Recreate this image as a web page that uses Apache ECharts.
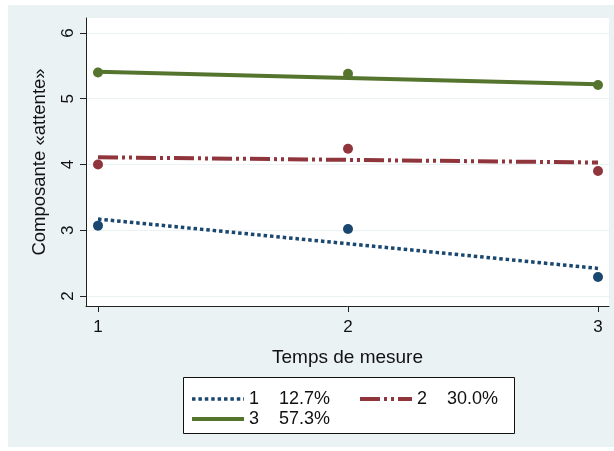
<!DOCTYPE html>
<html>
<head>
<meta charset="utf-8">
<script src="https://cdn.jsdelivr.net/npm/echarts@6/dist/echarts.min.js"></script>
<style>
  html, body { margin: 0; padding: 0; background: #ffffff; }
  #wrap { position: relative; width: 614px; height: 451px; }
  #bg { position: absolute; left: 8px; top: 5px; width: 606px; height: 442px; background: #eaf2f3; }
  #chart { position: absolute; left: 0; top: 0; width: 614px; height: 451px; }
</style>
</head>
<body>
<div id="wrap"><div id="bg"></div><div id="chart"></div></div>
<script>
// ---- data ----
const timePoints = [1, 2, 3];
const clusterNames = ['1', '2', '3'];
const clusterShares = ['12.7%', '30.0%', '57.3%'];
const observed1 = [3.07, 3.02, 2.29];
const observed2 = [4.00, 4.24, 3.90];
const observed3 = [5.40, 5.38, 5.21];
const fittedX = [1, 3];
const fitted1 = [3.17, 2.42];
const fitted2 = [4.11, 4.03];
const fitted3 = [5.41, 5.22];
const xTicks = [1, 2, 3];
const yTicks = [2, 3, 4, 5, 6];
const xTitle = 'Temps de mesure';
const yTitle = 'Composante «attente»';

const colors = ['#1a476f', '#90353b', '#55752f'];
const FONT = "'Liberation Sans', Arial, Helvetica, sans-serif";

const pair = (xs, ys) => xs.map((x, i) => [x, ys[i]]);
const observed = [observed1, observed2, observed3];
const fitted = [fitted1, fitted2, fitted3];
const dashTypes = [[3.5, 2.9], [20, 4, 3, 4, 3, 4], 'solid'];
const lineWidths = [3.5, 4, 4];

const series = [];
clusterNames.forEach((name, i) => {
  series.push({
    name: name,
    type: 'line',
    data: pair(fittedX, fitted[i]),
    symbol: 'none',
    silent: true,
    lineStyle: { color: colors[i], width: lineWidths[i], type: dashTypes[i], cap: 'butt' },
    itemStyle: { color: colors[i] },
    z: 2
  });
});
clusterNames.forEach((name, i) => {
  series.push({
    name: 'obs' + name,
    type: 'scatter',
    data: pair(timePoints, observed[i]),
    symbol: 'circle',
    symbolSize: 10,
    itemStyle: { color: colors[i], opacity: 1 },
    z: 3
  });
});

const chart = echarts.init(document.getElementById('chart'), null, { renderer: 'canvas' });
chart.setOption({
  backgroundColor: 'transparent',
  animation: false,
  textStyle: { fontFamily: FONT },
  grid: {
    left: 86, right: 5, top: 18, bottom: 145,
    show: true, backgroundColor: '#ffffff', borderWidth: 0
  },
  xAxis: {
    type: 'value',
    min: 0.952, max: 3.044,
    name: xTitle,
    nameLocation: 'middle',
    nameGap: 42,
    nameTextStyle: { fontSize: 19, color: '#111', fontFamily: FONT },
    axisLine: { show: true, lineStyle: { color: '#222', width: 1 } },
    axisTick: { show: true, length: 6, lineStyle: { color: '#222' }, customValues: xTicks },
    axisLabel: { fontSize: 17, color: '#111', margin: 13, fontFamily: FONT, customValues: xTicks },
    splitLine: { show: false }
  },
  yAxis: {
    type: 'value',
    min: 1.848, max: 6.228,
    name: yTitle,
    nameLocation: 'middle',
    nameRotate: 90,
    nameGap: 37,
    nameTextStyle: { fontSize: 18.5, color: '#111', fontFamily: FONT },
    axisLine: { show: true, lineStyle: { color: '#222', width: 1 } },
    axisTick: { show: true, length: 6, lineStyle: { color: '#222' }, customValues: yTicks },
    axisLabel: { fontSize: 17, color: '#111', margin: 9, rotate: 90, fontFamily: FONT, customValues: yTicks },
    splitLine: { show: true, lineStyle: { color: '#eaf2f3', width: 1 } }
  },
  legend: {
    data: clusterNames.map((n, i) => ({
      name: n,
      itemStyle: { opacity: 0 },
      lineStyle: { color: colors[i], width: lineWidths[i], type: dashTypes[i], cap: 'butt', opacity: 1 }
    })),
    left: 190,
    top: 389,
    width: 400,
    padding: 0,
    itemGap: 0,
    itemWidth: 52,
    itemHeight: 14,
    selectedMode: false,
    formatter: function (name) {
      const i = clusterNames.indexOf(name);
      return '{a|' + name + '}{b|' + clusterShares[i] + '}';
    },
    textStyle: {
      fontFamily: FONT,
      fontSize: 18,
      lineHeight: 20,
      color: '#111',
      rich: {
        a: { width: 30, height: 20, fontSize: 18, lineHeight: 20, fontFamily: FONT, color: '#111' },
        b: { width: 79, height: 20, fontSize: 18, lineHeight: 20, fontFamily: FONT, color: '#111' }
      }
    }
  },
  graphic: [{
    type: 'rect',
    shape: { x: 183.5, y: 377.5, width: 331, height: 56 },
    style: { fill: '#ffffff', stroke: '#111', lineWidth: 1 },
    z: 0
  }],
  series: series
});
</script>
</body>
</html>
